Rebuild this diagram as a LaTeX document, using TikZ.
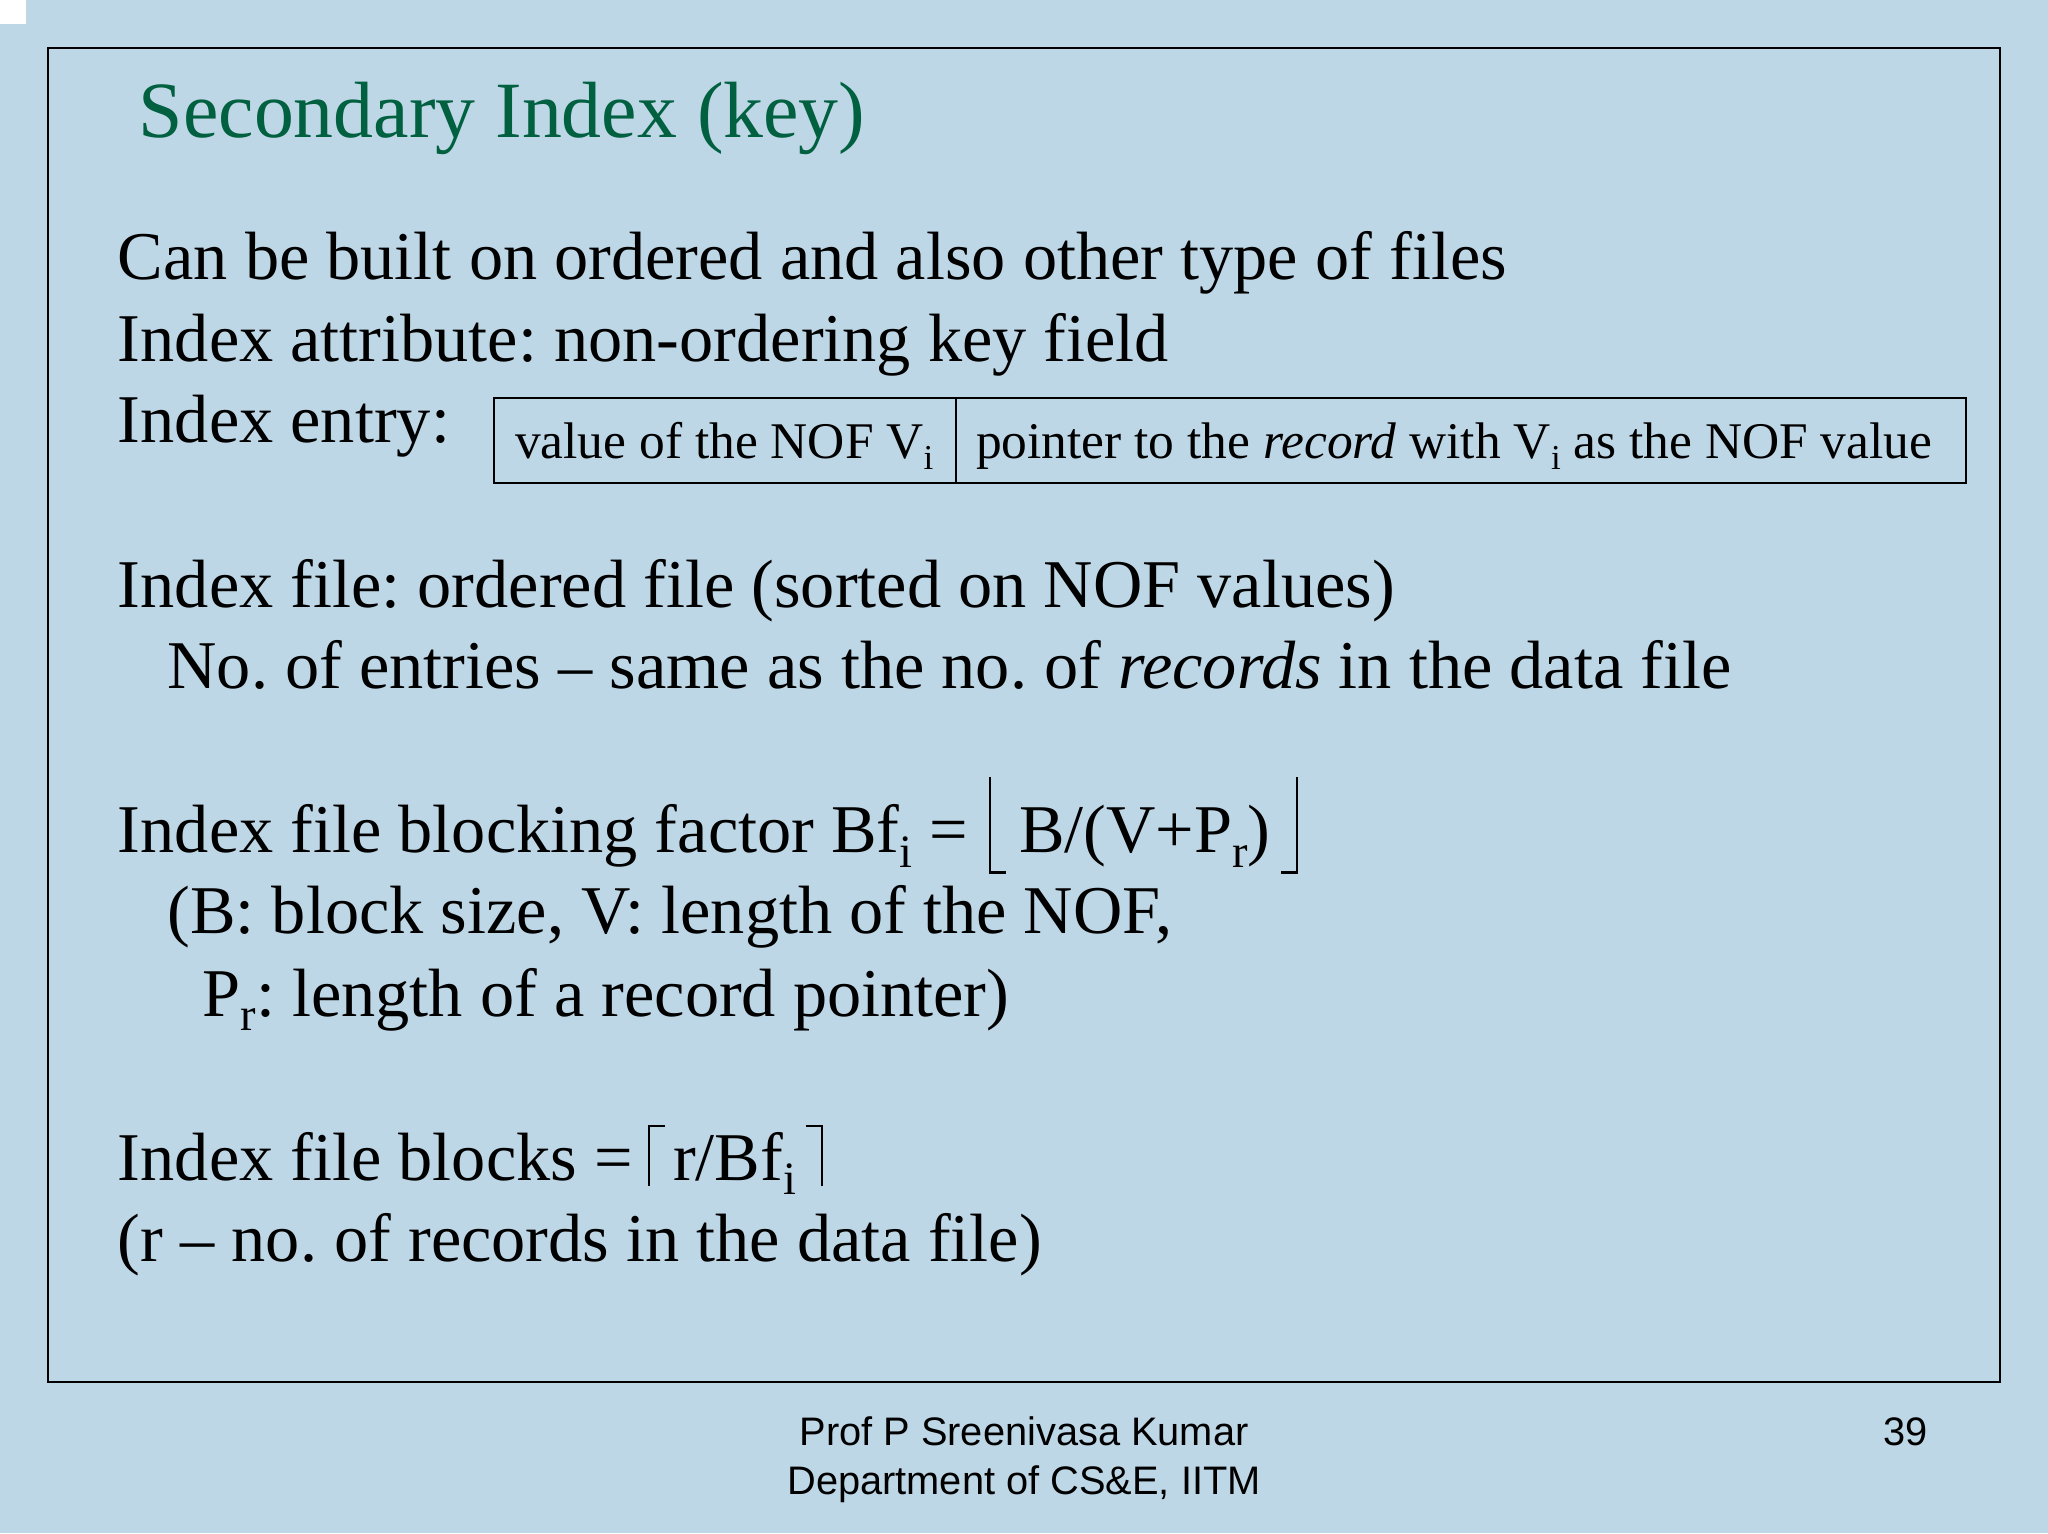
\documentclass[tikz,border=0pt]{standalone}
\usepackage{fontspec}
\setmainfont{Liberation Serif}
\newfontfamily\footfont{Liberation Sans}
\definecolor{bgblue}{RGB}{190,215,230}
\definecolor{titlegreen}{RGB}{0,96,64}
\newcommand{\mysub}[1]{\raisebox{-0.45ex}{\scalebox{0.68}{#1}}}
\frenchspacing
\begin{document}
\begin{tikzpicture}[x=0.65pt,y=-0.65pt,
  body/.style={anchor=base west,inner sep=0pt,font=\fontsize{34}{38}\selectfont},
  entry/.style={anchor=base west,inner sep=0pt,font=\fontsize{25.6}{28}\selectfont},
  foot/.style={anchor=base,inner sep=0pt,font=\footfont\fontsize{19.8}{22}\selectfont},
  brk/.style={line width=1pt}]
\fill[bgblue] (0,0) rectangle (1568,1174);
\useasboundingbox (0,0) rectangle (1568,1174);
\fill[white] (0,0) rectangle (20,18);
\draw[line width=1pt] (37,37) rectangle (1531,1058);
\node[anchor=base west,inner sep=0pt,text=titlegreen,font=\fontsize{39.7}{44}\selectfont] (title) at (106,105) {Secondary Index (key)};
\node[body] (l1) at (90,214) {Can be built on ordered and also other type of files};
\node[body] (l2) at (90,277) {Index attribute: non-ordering key field};
\node[body] (l3) at (90,339) {Index entry:};
\draw[line width=1pt] (378,305) rectangle (1505,370);
\draw[line width=1pt] (732,305) -- (732,370);
\node[entry] (e1) at (394,351) {value of the NOF V\mysub{i}};
\node[entry] (e2) at (747,351) {pointer to the \textit{record} with V\mysub{i} as the NOF value};
\node[body] (l4) at (90,465) {Index file: ordered file (sorted on NOF values)};
\node[body] (l5) at (128,527) {No. of entries -- same as the no. of \textit{records} in the data file};
\node[body] (l6) at (90,653) {Index file blocking factor Bf\mysub{i} =};
\node[body] (l6b) at (780,653) {B/(V+P\mysub{r})};
\draw[brk] (758,595) -- (758,668) -- (770,668);
\draw[brk] (993,595) -- (993,668) -- (981,668);
\node[body] (l7) at (128,715) {(B: block size, V: length of the NOF,};
\node[body] (l8) at (155,778) {P\mysub{r}: length of a record pointer)};
\node[body] (l9) at (90,904) {Index file blocks =};
\node[body] (l9b) at (515,904) {r/Bf\mysub{i}};
\draw[brk] (497,908) -- (497,862) -- (509,862);
\draw[brk] (629,908) -- (629,862) -- (617,862);
\node[body] (l10) at (90,966) {(r -- no. of records in the data file)};
\node[foot] (f1) at (784,1107) {Prof P Sreenivasa Kumar};
\node[foot] (f2) at (784,1144) {Department of CS\&E, IITM};
\node[foot] (pg) at (1459,1107) {39};
\end{tikzpicture}
\end{document}
